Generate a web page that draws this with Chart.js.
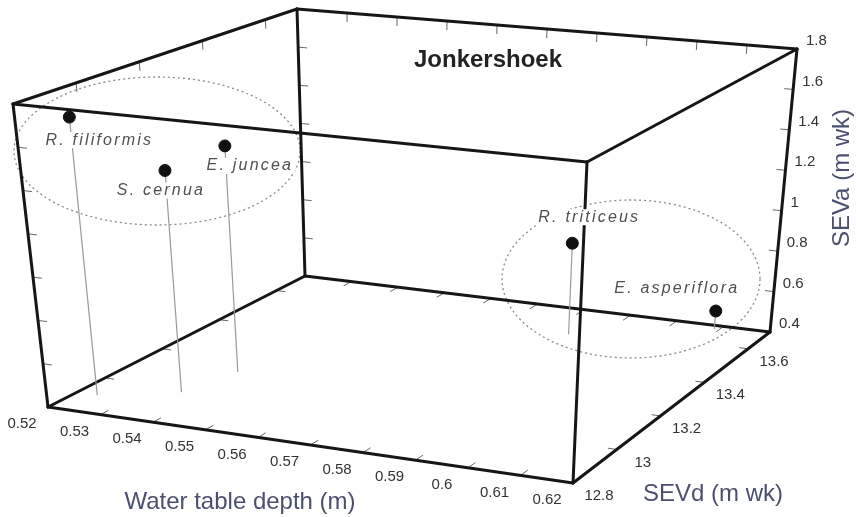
<!DOCTYPE html>
<html lang="en">
<head>
  <meta charset="UTF-8" />
  <title>Jonkershoek</title>
  <script src="https://cdn.jsdelivr.net/npm/chart.js"></script>
  <style>
    html, body { margin: 0; padding: 0; background: #fff; overflow: hidden; }
    #chart { display: block; }
  </style>
</head>
<body>
  <canvas id="chart" width="856" height="517"></canvas>

  <script>
    // data
    const species = ["R. filiformis", "S. cernua", "E. juncea", "R. triticeus", "E. asperiflora"];
    const waterDepth = [0.524, 0.536, 0.539, 0.584, 0.609];   // m
    const sevd = [12.90, 12.98, 13.13, 13.56, 13.68];          // m wk
    const seva = [1.70, 1.44, 1.48, 0.85, 0.49];               // m wk

    const xTicks = [0.52, 0.53, 0.54, 0.55, 0.56, 0.57, 0.58, 0.59, 0.6, 0.61, 0.62];
    const dTicks = [12.8, 13, 13.2, 13.4, 13.6];
    const zTicks = [0.4, 0.6, 0.8, 1, 1.2, 1.4, 1.6, 1.8];

    const X_MIN = 0.52, X_MAX = 0.62;
    const D_MIN = 12.8, D_MAX = 13.7;
    const Z_MIN = 0.4, Z_MAX = 1.8;

    // where the 8 corners of the box sit on screen (key = x,d,z bits)
    const frame = {
      "000": [48, 407],  "100": [573, 483], "010": [305, 276], "110": [770, 332],
      "001": [13, 104],  "101": [587, 162], "011": [297, 9],   "111": [797, 49]
    };

    function lerp(a, b, t) { return [a[0] + (b[0] - a[0]) * t, a[1] + (b[1] - a[1]) * t]; }

    // trilinear mapping of (x, d, z) into the drawn box
    function project(x, d, z) {
      const u = (x - X_MIN) / (X_MAX - X_MIN);
      const v = (d - D_MIN) / (D_MAX - D_MIN);
      const w = (z - Z_MIN) / (Z_MAX - Z_MIN);
      const b = lerp(lerp(frame["000"], frame["100"], u), lerp(frame["010"], frame["110"], u), v);
      const t = lerp(lerp(frame["001"], frame["101"], u), lerp(frame["011"], frame["111"], u), v);
      const p = lerp(b, t, w);
      return { x: p[0], y: p[1] };
    }

    function corner(key) {
      return project(key[0] === "1" ? X_MAX : X_MIN, key[1] === "1" ? D_MAX : D_MIN, key[2] === "1" ? Z_MAX : Z_MIN);
    }

    const edges = [
      ["000", "100"], ["010", "110"], ["001", "101"], ["011", "111"],
      ["000", "010"], ["100", "110"], ["001", "011"], ["101", "111"],
      ["000", "001"], ["100", "101"], ["010", "011"], ["110", "111"]
    ];

    const datasets = [];

    datasets.push({
      data: species.map((s, i) => project(waterDepth[i], sevd[i], seva[i])),
      showLine: false,
      pointRadius: 6,
      pointBackgroundColor: "#111",
      pointBorderColor: "#111",
      order: 0,
      clip: false
    });

    species.forEach((s, i) => {
      datasets.push({
        data: [project(waterDepth[i], sevd[i], seva[i]), project(waterDepth[i], sevd[i], Z_MIN)],
        showLine: true,
        borderColor: "#9a9a9a",
        borderWidth: 1.2,
        pointRadius: 0,
        order: 1,
        clip: false
      });
    });

    edges.forEach(e => {
      datasets.push({
        data: [corner(e[0]), corner(e[1])],
        showLine: true,
        borderColor: "#161616",
        borderWidth: 3,
        borderCapStyle: "round",
        pointRadius: 0,
        order: 2,
        clip: false
      });
    });

    const TICK = 9;
    const tickSets = [
      { vals: xTicks, at: v => [v, D_MIN, Z_MIN], dir: [0, 1, 0] },
      { vals: xTicks, at: v => [v, D_MAX, Z_MIN], dir: [0, -1, 0] },
      { vals: xTicks, at: v => [v, D_MAX, Z_MAX], dir: [0, 0, -1] },
      { vals: dTicks, at: v => [X_MAX, v, Z_MIN], dir: [-1, 0, 0] },
      { vals: dTicks, at: v => [X_MIN, v, Z_MIN], dir: [1, 0, 0] },
      { vals: dTicks, at: v => [X_MIN, v, Z_MAX], dir: [0, 0, -1] },
      { vals: zTicks, at: v => [X_MAX, D_MAX, v], dir: [-1, 0, 0] },
      { vals: zTicks, at: v => [X_MIN, D_MAX, v], dir: [1, 0, 0] },
      { vals: zTicks, at: v => [X_MIN, D_MIN, v], dir: [1, 0, 0] }
    ];

    const labelOffsets = [[30, 23], [-4, 20], [25, 20], [17, -26], [-39, -22]];

    const overlay = {
      id: "overlay",
      beforeDatasetsDraw(chart) {
        const ctx = chart.ctx;
        const sx = chart.scales.x, sy = chart.scales.y;
        ctx.save();

        // dashed group outlines
        ctx.setLineDash([2, 3]);
        ctx.strokeStyle = "#8a8a8a";
        ctx.lineWidth = 1.3;
        [[157, 151, 143, 74], [631, 279, 129, 79]].forEach(el => {
          ctx.beginPath();
          ctx.ellipse(sx.getPixelForValue(el[0]), sy.getPixelForValue(el[1]), el[2], el[3], 0, 0, Math.PI * 2);
          ctx.stroke();
        });
        ctx.setLineDash([]);

        // tick marks
        ctx.strokeStyle = "#666";
        ctx.lineWidth = 1;
        const span = [X_MAX - X_MIN, D_MAX - D_MIN, Z_MAX - Z_MIN];
        tickSets.forEach(ts => {
          ts.vals.forEach(v => {
            const p = ts.at(v);
            const a = project(p[0], p[1], p[2]);
            const b = project(p[0] + ts.dir[0] * span[0] * 0.05, p[1] + ts.dir[1] * span[1] * 0.05, p[2] + ts.dir[2] * span[2] * 0.05);
            const len = Math.hypot(b.x - a.x, b.y - a.y) || 1;
            const x0 = sx.getPixelForValue(a.x), y0 = sy.getPixelForValue(a.y);
            ctx.beginPath();
            ctx.moveTo(x0, y0);
            ctx.lineTo(x0 + (b.x - a.x) / len * TICK, y0 + (b.y - a.y) / len * TICK);
            ctx.stroke();
          });
        });
        ctx.restore();
      },
      afterDatasetsDraw(chart) {
        const ctx = chart.ctx;
        const sx = chart.scales.x, sy = chart.scales.y;
        ctx.save();

        // tick labels
        ctx.fillStyle = "#333";
        ctx.font = "15px Arial, 'Liberation Sans', sans-serif";
        ctx.textBaseline = "middle";
        ctx.textAlign = "center";
        xTicks.forEach(v => {
          const p = project(v, D_MIN, Z_MIN);
          ctx.fillText(String(v), sx.getPixelForValue(p.x) - 26, sy.getPixelForValue(p.y) + 17);
        });
        dTicks.forEach(v => {
          const p = project(X_MAX, v, Z_MIN);
          ctx.fillText(String(v), sx.getPixelForValue(p.x) + 26, sy.getPixelForValue(p.y) + 13);
        });
        ctx.textAlign = "left";
        zTicks.forEach(v => {
          const p = project(X_MAX, D_MAX, v);
          ctx.fillText(String(v), sx.getPixelForValue(p.x) + 9, sy.getPixelForValue(p.y) - 8);
        });

        // species names, on a white patch like the original
        ctx.font = "italic 16px Arial, 'Liberation Sans', sans-serif";
        ctx.textAlign = "center";
        ctx.letterSpacing = "2.2px";
        species.forEach((s, i) => {
          const p = project(waterDepth[i], sevd[i], seva[i]);
          const lx = sx.getPixelForValue(p.x) + labelOffsets[i][0];
          const ly = sy.getPixelForValue(p.y) + labelOffsets[i][1];
          const w = ctx.measureText(s).width;
          ctx.fillStyle = "#fff";
          ctx.fillRect(lx - w / 2 - 2, ly - 8, w + 4, 16);
          ctx.fillStyle = "#505050";
          ctx.fillText(s, lx, ly);
        });
        ctx.letterSpacing = "0px";

        // title
        ctx.font = "bold 24px Arial, 'Liberation Sans', sans-serif";
        ctx.fillStyle = "#222";
        ctx.fillText("Jonkershoek", 488, 60);

        // axis titles
        ctx.font = "24px Arial, 'Liberation Sans', sans-serif";
        ctx.fillStyle = "#4b5070";
        ctx.fillText("Water table depth (m)", 240, 502);
        ctx.fillText("SEVd (m wk)", 713, 494);
        ctx.translate(842, 178);
        ctx.rotate(-Math.PI / 2);
        ctx.fillText("SEVa (m wk)", 0, 0);
        ctx.restore();
      }
    };

    new Chart(document.getElementById("chart"), {
      type: "scatter",
      data: { datasets: datasets },
      options: {
        responsive: false,
        animation: false,
        layout: { padding: 0, autoPadding: false },
        plugins: { legend: { display: false }, tooltip: { enabled: false } },
        scales: {
          x: { type: "linear", min: 0, max: 856, display: false },
          y: { type: "linear", min: 0, max: 517, reverse: true, display: false }
        }
      },
      plugins: [overlay]
    });
  </script>
</body>
</html>
